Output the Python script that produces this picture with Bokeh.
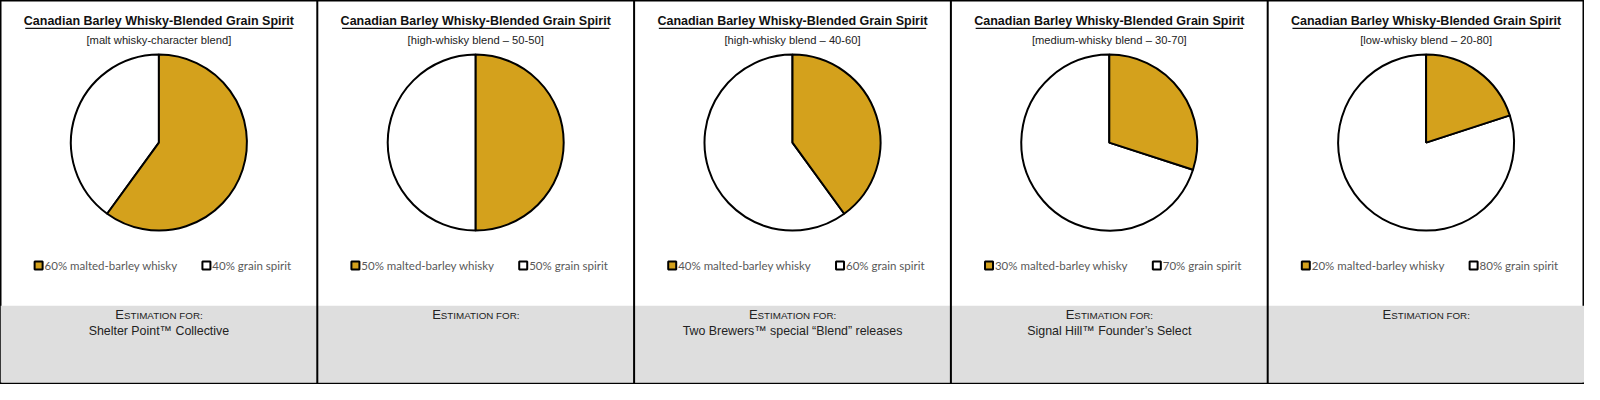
import numpy as np
from bokeh.plotting import figure
from bokeh.models import Range1d, ColumnDataSource
from bokeh.core.properties import value
from bokeh.embed import file_html
from bokeh.resources import INLINE

# ---------------- data ----------------
chart_title = "Canadian Barley Whisky-Blended Grain Spirit"
subtitles = [
    "[malt whisky-character blend]",
    "[high-whisky blend \u2013 50-50]",
    "[high-whisky blend \u2013 40-60]",
    "[medium-whisky blend \u2013 30-70]",
    "[low-whisky blend \u2013 20-80]",
]
whisky_pct = [60, 50, 40, 30, 20]
grain_pct = [40, 50, 60, 70, 80]
whisky_label = "malted-barley whisky"
grain_label = "grain spirit"
estimation_head_first = "E"
estimation_head_rest = "STIMATION FOR:"
estimation_for = [
    "Shelter Point\u2122 Collective",
    "",
    "Two Brewers\u2122 special \u201cBlend\u201d releases",
    "Signal Hill\u2122 Founder\u2019s Select",
    "",
]
slice_colors = ["#D4A11C", "#FFFFFF"]

# ---------------- layout (reference pixel space, y measured from top) ----------------
W, H = 1600, 400
PANEL_W = 320
n = len(whisky_pct)
SANS = value("Liberation Sans")
LEG_FONT = value("Lato")


def Y(y_top):
    return H - y_top


p = figure(width=1584, height=384, output_backend="svg", toolbar_location=None,
           x_range=Range1d(0, W), y_range=Range1d(0, H), min_border=0)
p.axis.visible = False
p.grid.visible = False
p.outline_line_color = "black"
p.outline_line_width = 2
p.background_fill_color = "white"
p.border_fill_color = "white"

centers = [PANEL_W / 2 + PANEL_W * i for i in range(n)]
lefts = [PANEL_W * i for i in range(n)]

# gray footer band
p.quad(left=[0], right=[W], bottom=[Y(398)], top=[Y(318)],
       fill_color="#DEDEDE", line_color=None)

# panel dividers
p.segment(x0=lefts[1:], x1=lefts[1:], y0=[Y(0)] * (n - 1), y1=[Y(400)] * (n - 1),
          line_color="black", line_width=2)

# pies
w_frac = np.array(whisky_pct) / 100.0
g_frac = np.array(grain_pct) / 100.0
gold = ColumnDataSource(dict(x=centers, y=[Y(148)] * n,
                             start=np.pi / 2 - 2 * np.pi * w_frac,
                             end=[np.pi / 2] * n))
white = ColumnDataSource(dict(x=centers, y=[Y(148)] * n,
                              start=[np.pi / 2] * n,
                              end=np.pi / 2 + 2 * np.pi * g_frac))
for src, col in ((white, slice_colors[1]), (gold, slice_colors[0])):
    p.wedge(x="x", y="y", radius=88, radius_units="screen",
            start_angle="start", end_angle="end", source=src,
            fill_color=col, line_color="black", line_width=2)

# titles
p.text(x=centers, y=[Y(21.5)] * n, text=[chart_title] * n, text_font=SANS,
       text_font_size="12.5px", text_font_style="bold", text_color="#111111",
       text_align="center", text_baseline="middle")
p.segment(x0=[c - 135 for c in centers], x1=[c + 135 for c in centers],
          y0=[Y(29)] * n, y1=[Y(29)] * n, line_color="#111111", line_width=1.2)
p.text(x=centers, y=[Y(41.5)] * n, text=subtitles, text_font=SANS,
       text_font_size="11.2px", text_color="#222222",
       text_align="center", text_baseline="middle")

# legends
leg1_x = [l + 38.5 for l in lefts]
leg2_x = [l + 208 for l in lefts]
p.scatter(x=leg1_x, y=[Y(276)] * n, marker="square", size=8,
          fill_color=slice_colors[0], line_color="black", line_width=2)
p.scatter(x=leg2_x, y=[Y(276)] * n, marker="square", size=8,
          fill_color=slice_colors[1], line_color="black", line_width=2)
p.text(x=[x + 6 for x in leg1_x], y=[Y(276)] * n,
       text=[f"{v}% {whisky_label}" for v in whisky_pct], text_font=LEG_FONT,
       text_font_size="11.5px", text_color="#595959",
       text_align="left", text_baseline="middle")
p.text(x=[x + 6 for x in leg2_x], y=[Y(276)] * n,
       text=[f"{v}% {grain_label}" for v in grain_pct], text_font=LEG_FONT,
       text_font_size="11.5px", text_color="#595959",
       text_align="left", text_baseline="middle")

# footer text
p.text(x=[c - 44 for c in centers], y=[Y(327)] * n,
       text=[estimation_head_first] * n, text_font=SANS,
       text_font_size="13px", text_color="#222222",
       text_align="left", text_baseline="middle")
p.text(x=[c - 35.3 for c in centers], y=[Y(328)] * n,
       text=[estimation_head_rest] * n, text_font=SANS,
       text_font_size="9.8px", text_color="#222222",
       text_align="left", text_baseline="middle")
p.text(x=centers, y=[Y(344.5)] * n, text=estimation_for, text_font=SANS,
       text_font_size="12.4px", text_color="#222222",
       text_align="center", text_baseline="middle")

open("out.html", "w").write(file_html(p, INLINE))
